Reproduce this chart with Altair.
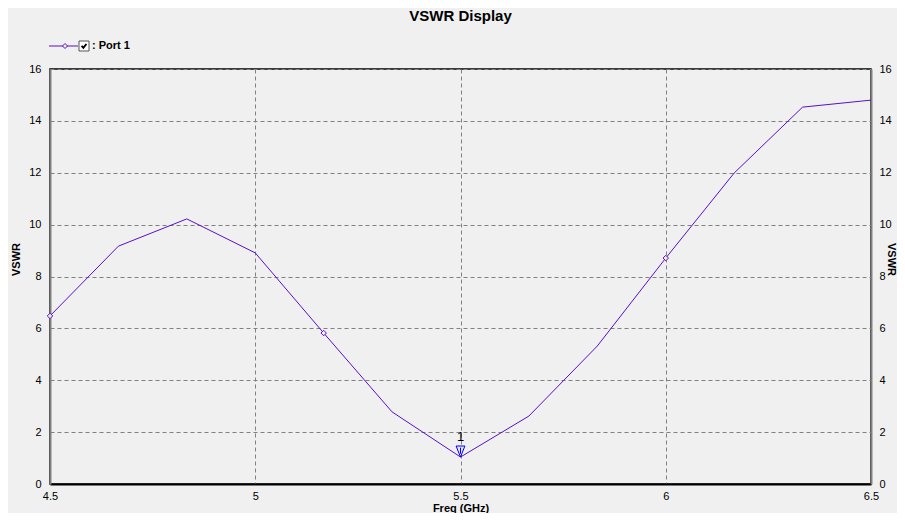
import altair as alt
import pandas as pd

# ---- data ----
freq = [4.5, 4.6667, 4.8333, 5.0, 5.1667, 5.3333, 5.5, 5.6667, 5.8333, 6.0, 6.1667, 6.3333, 6.5]
vswr = [6.48, 9.17, 10.22, 8.91, 5.82, 2.78, 1.04, 2.62, 5.32, 8.71, 11.99, 14.53, 14.80]
marker_idx = [0, 4, 9]
x_ticks = [4.5, 5.0, 5.5, 6.0, 6.5]
y_ticks = [0, 2, 4, 6, 8, 10, 12, 14, 16]
m1_freq = [5.5]
m1_vswr = [1.04]
m1_label = ["1"]
legend_label = [": Port 1"]

df = pd.DataFrame({"freq": freq, "vswr": vswr})
dm = df.iloc[marker_idx].reset_index(drop=True)
dmk = pd.DataFrame({"freq": m1_freq, "vswr": m1_vswr, "label": m1_label})
dleg = pd.DataFrame({"label": legend_label})

LINE = "#5b0fc8"
BG = "#f0f0f0"
FONT = "Liberation Sans"

xs = alt.Scale(domain=[4.5, 6.5], nice=False, zero=False)
ys = alt.Scale(domain=[0, 16], nice=False, zero=True)

x_axis = alt.Axis(values=x_ticks, format="~g", title="Freq (GHz)", grid=True,
                  gridColor="#808080", gridDash=[4, 3], gridWidth=1,
                  domainColor="#000000", domainWidth=2, labelPadding=6,
                  labelFlush=False,
                  titleY=27, titleBaseline="alphabetic")
y_left = alt.Axis(values=y_ticks, title="VSWR", grid=True, gridColor="#808080",
                  gridDash=[4, 3], gridWidth=1, domainColor="#808080", domainWidth=2,
                  labelPadding=9, titleX=-34, titleY=190, titleAngle=-90,
                  titleAlign="center", titleBaseline="middle")
y_right = alt.Axis(values=y_ticks, title="VSWR", orient="right", grid=False,
                   domainColor="#808080", domainWidth=2, labelPadding=8,
                   titleX=19, titleY=190, titleAngle=90,
                   titleAlign="center", titleBaseline="middle")

X = alt.X("freq:Q", scale=xs)

line = alt.Chart(df).mark_line(color=LINE, strokeWidth=1).encode(
    x=alt.X("freq:Q", scale=xs, axis=x_axis),
    y=alt.Y("vswr:Q", scale=ys, axis=y_left),
)

right = alt.Chart(df).mark_line(opacity=0).encode(
    x=X,
    y=alt.Y("vswr:Q", scale=ys, axis=y_right),
)

diamonds = alt.Chart(dm).mark_point(shape="diamond", size=30, fill=BG, fillOpacity=1,
                                    stroke=LINE, strokeWidth=1, opacity=1, filled=True).encode(
    x=X,
    y=alt.Y("vswr:Q", scale=ys, axis=None),
)

tri = alt.Chart(dmk).mark_point(
    shape="M-0.8,-2L0.8,-2L0,0Z M0,-1.7L0,-0.6",
    size=121, fill="#dfe6ff", fillOpacity=1, stroke="#0000ff", strokeWidth=1,
    opacity=1, filled=True,
).encode(
    x=X,
    y=alt.Y("vswr:Q", scale=ys, axis=None),
)

tri_lab = alt.Chart(dmk).mark_text(dy=-20, fontSize=13, font=FONT, color="#000").encode(
    x=X,
    y=alt.Y("vswr:Q", scale=ys, axis=None),
    text="label:N",
)

# legend (drawn in the top padding area)
leg_rule = alt.Chart(dleg).mark_rule(color=LINE, strokeWidth=1).encode(
    x=alt.value(-1), x2=alt.value(28), y=alt.value(-23))
leg_dia = alt.Chart(dleg).mark_point(shape="diamond", size=25, fill=BG, fillOpacity=1,
                                     stroke=LINE, strokeWidth=1, opacity=1, filled=True).encode(
    x=alt.value(15), y=alt.value(-23))
leg_box = alt.Chart(dleg).mark_rect(fill="#ffffff", stroke="#555555", strokeWidth=1).encode(
    x=alt.value(29), x2=alt.value(39), y=alt.value(-28), y2=alt.value(-18))
leg_chk = alt.Chart(dleg).mark_point(shape="M-0.6,-0.05L-0.15,0.45L0.6,-0.5", size=64,
                                     filled=False, stroke="#000000", strokeWidth=2,
                                     opacity=1).encode(
    x=alt.value(34), y=alt.value(-23))
leg_txt = alt.Chart(dleg).mark_text(align="left", baseline="middle", fontSize=11,
                                    fontWeight="bold", font=FONT, color="#000").encode(
    x=alt.value(42), y=alt.value(-23), text="label:N")

chart = alt.layer(
    line, right, diamonds, tri, tri_lab,
    leg_rule, leg_dia, leg_box, leg_chk, leg_txt,
).resolve_axis(y="independent").properties(
    width=821, height=415,
    autosize=alt.AutoSizeParams(type="none"),
    padding={"left": 42, "top": 61, "right": 26, "bottom": 29},
    background=BG,
    title=alt.TitleParams("VSWR Display", fontSize=15, fontWeight="bold", font=FONT,
                          color="#000", anchor="middle", offset=16),
).configure_axis(
    labelFont=FONT, labelFontSize=11, labelColor="#000",
    titleFont=FONT, titleFontSize=11, titleFontWeight="bold", titleColor="#000",
    ticks=False,
).configure_view(stroke="#000000", strokeWidth=1.5)

chart.save("out.html", embed_options={"renderer": "svg", "actions": False})
